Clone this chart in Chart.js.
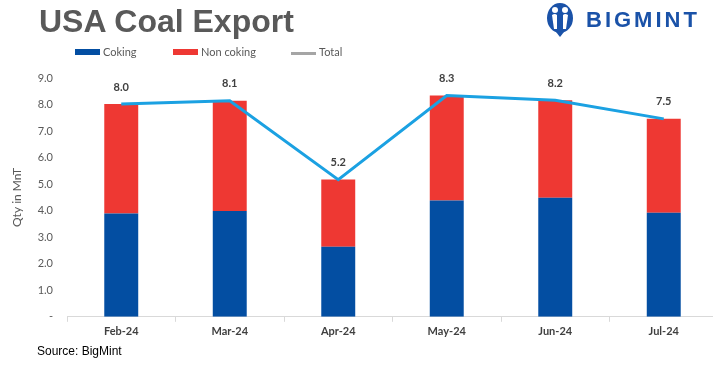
<!DOCTYPE html>
<html>
<head>
<meta charset="utf-8">
<script src="https://cdn.jsdelivr.net/npm/chart.js@4"></script>
<style>
  html, body { margin: 0; padding: 0; background: #fff; overflow: hidden; }
  #wrap { position: relative; width: 713px; height: 370px; overflow: hidden; }
  #chartBox { position: absolute; left: 0; top: 0; width: 725px; height: 370px; }
  #title { position: absolute; left: 39px; top: 3px; font: bold 32px "Liberation Sans", Arial, sans-serif; color: #595959; }
  .legend { position: absolute; top: 45px; font: 11px Lato, "Open Sans", sans-serif; color: #595959; white-space: nowrap; }
  .legend span.sw { display: inline-block; width: 25px; height: 6px; vertical-align: middle; margin-right: 3px; position: relative; top: -1px; }
  #logo { position: absolute; left: 546px; top: 2px; height: 36px; }
  #logoText { position: absolute; left: 586px; top: 7px; font: bold 22px "Liberation Sans", Arial, sans-serif; color: #1a52a8; letter-spacing: 3px; }
  #source { position: absolute; left: 37px; top: 344px; font: 12px "Liberation Sans", Arial, sans-serif; color: #000; }
</style>
</head>
<body>
<div id="wrap">
  <div id="chartBox"><canvas id="coalChart"></canvas></div>
  <div id="title">USA Coal Export</div>
  <div class="legend" style="left:75px"><span class="sw" style="background:#034ea2"></span>Coking</div>
  <div class="legend" style="left:173px"><span class="sw" style="background:#ee3833"></span>Non coking</div>
  <div class="legend" style="left:291px"><span class="sw" style="background:#a5a5a5;height:3px;top:0"></span>Total</div>
  <svg id="logo" viewBox="0 0 28 36" width="28" height="36">
    <ellipse cx="14" cy="16" rx="13" ry="15" fill="#1a52a8"/>
    <circle cx="9" cy="8" r="3" fill="#fff"/>
    <circle cx="19" cy="8" r="3" fill="#fff"/>
    <path d="M6 13 Q9 11 11 13 L11 27 L8 27 Z" fill="#fff"/>
    <path d="M17 13 Q19 11 22 13 L20 27 L17 27 Z" fill="#fff"/>
    <path d="M10 30 L14 35 L18 30 Z" fill="#1a52a8"/>
  </svg>
  <div id="logoText">BIGMINT</div>
  <div id="source">Source: BigMint</div>
</div>
<script>
// ---------- data ----------
const months = ['Feb-24', 'Mar-24', 'Apr-24', 'May-24', 'Jun-24', 'Jul-24'];
const coking = [3.89, 3.99, 2.64, 4.38, 4.49, 3.92];
const nonCoking = [4.13, 4.15, 2.53, 3.96, 3.67, 3.54];
const total = [8.02, 8.14, 5.17, 8.34, 8.16, 7.46];
const yTicks = [0, 1, 2, 3, 4, 5, 6, 7, 8, 9];

// labels above the total line
const totalLabels = {
    id: 'totalLabels',
    afterDatasetsDraw(chart) {
        const meta = chart.getDatasetMeta(2);
        const ctx = chart.ctx;
        ctx.save();
        ctx.font = 'bold 11px Lato, "Open Sans", sans-serif';
        ctx.fillStyle = '#404040';
        ctx.textAlign = 'center';
        ctx.textBaseline = 'middle';
        meta.data.forEach((pt, i) => {
            ctx.fillText(total[i].toFixed(1), pt.x, pt.y - 17);
        });
        ctx.restore();
    }
};

new Chart(document.getElementById('coalChart'), {
    type: 'bar',
    data: {
        labels: months,
        datasets: [
            { label: 'Coking', data: coking, backgroundColor: '#034ea2', stack: 'bars', order: 1, barPercentage: 0.313, categoryPercentage: 1 },
            { label: 'Non coking', data: nonCoking, backgroundColor: '#ee3833', stack: 'bars', order: 1, barPercentage: 0.313, categoryPercentage: 1 },
            { label: 'Total', type: 'line', data: total, stack: 'line', order: 0, borderColor: '#1ba1e2', borderWidth: 3, pointRadius: 0, tension: 0, fill: false }
        ]
    },
    options: {
        responsive: true,
        maintainAspectRatio: false,
        animation: false,
        layout: { padding: { top: 78, right: 7, bottom: 29, left: 0 } },
        plugins: { legend: { display: false }, tooltip: { enabled: false } },
        scales: {
            x: {
                stacked: true,
                grid: { display: true, drawOnChartArea: false, drawTicks: true, tickLength: 5, offset: true, color: '#d9d9d9' },
                border: { display: true, color: '#d9d9d9' },
                ticks: { color: '#404040', font: { family: 'Lato, "Open Sans", sans-serif', size: 11, weight: 'bold' }, padding: 3 }
            },
            y: {
                stacked: true,
                min: 0,
                max: 9,
                afterBuildTicks: axis => { axis.ticks = yTicks.map(v => ({ value: v })); },
                afterFit: axis => { axis.width = 67; },
                grid: { display: false },
                border: { display: false },
                title: { display: true, text: 'Qty in MnT', color: '#595959', font: { family: 'Lato, "Open Sans", sans-serif', size: 12 }, padding: { top: 10, bottom: 12 } },
                ticks: {
                    color: '#595959',
                    font: { family: 'Lato, "Open Sans", sans-serif', size: 11 },
                    padding: 6,
                    callback: v => v === 0 ? '-' : v.toFixed(1)
                }
            }
        }
    },
    plugins: [totalLabels]
});
</script>
</body>
</html>
